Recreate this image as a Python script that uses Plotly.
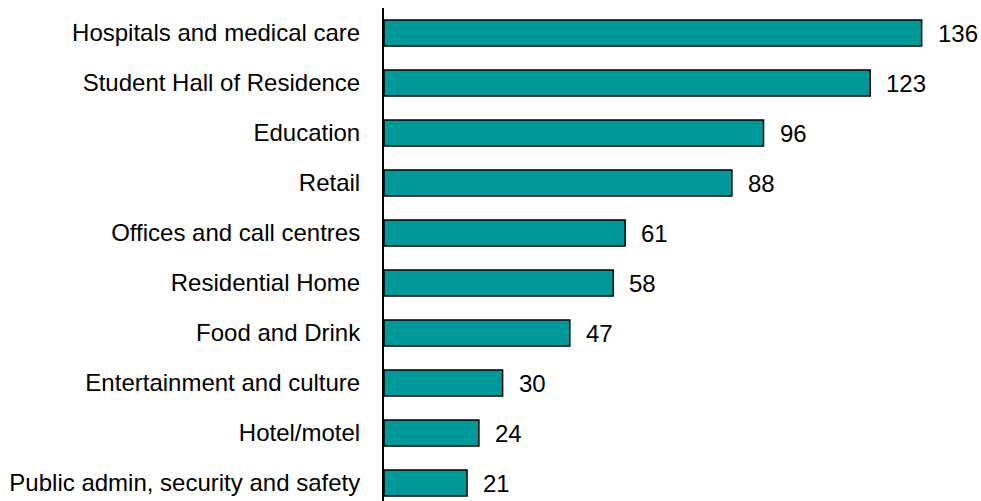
import plotly.graph_objects as go

categories = [
    "Hospitals and medical care",
    "Student Hall of Residence",
    "Education",
    "Retail",
    "Offices and call centres",
    "Residential Home",
    "Food and Drink",
    "Entertainment and culture",
    "Hotel/motel",
    "Public admin, security and safety",
]
values = [136, 123, 96, 88, 61, 58, 47, 30, 24, 21]

FONT = "Liberation Sans, Arial, sans-serif"
FS = 24

fig = go.Figure()
fig.add_trace(go.Bar(
    x=values,
    y=categories,
    orientation="h",
    width=0.52,
    marker=dict(color="#009999", line=dict(color="#000000", width=1.5)),
    hoverinfo="skip",
))

annotations = [
    dict(x=v, y=c, xref="x", yref="y", text=str(v), showarrow=False,
         xanchor="left", yanchor="middle", xshift=14,
         font=dict(family=FONT, size=FS, color="#000000"))
    for c, v in zip(categories, values)
]

fig.update_layout(
    width=981, height=501,
    margin=dict(l=384, r=4, t=8, b=0),
    paper_bgcolor="white", plot_bgcolor="white",
    showlegend=False,
    font=dict(family=FONT, size=FS, color="#000000"),
    annotations=annotations,
    xaxis=dict(range=[0, 150], visible=False, showgrid=False, zeroline=False),
    yaxis=dict(
        type="category",
        categoryorder="array", categoryarray=categories,
        range=[9.36, -0.5],
        showgrid=False, zeroline=False,
        showline=True, linecolor="#000000", linewidth=2,
        ticks="", ticklabelstandoff=17,
        tickfont=dict(family=FONT, size=FS, color="#000000"),
    ),
)

fig.write_html(
    "out.html",
    config={"displayModeBar": False},
    post_script="document.body.style.margin='0';document.body.style.overflow='hidden';",
)
